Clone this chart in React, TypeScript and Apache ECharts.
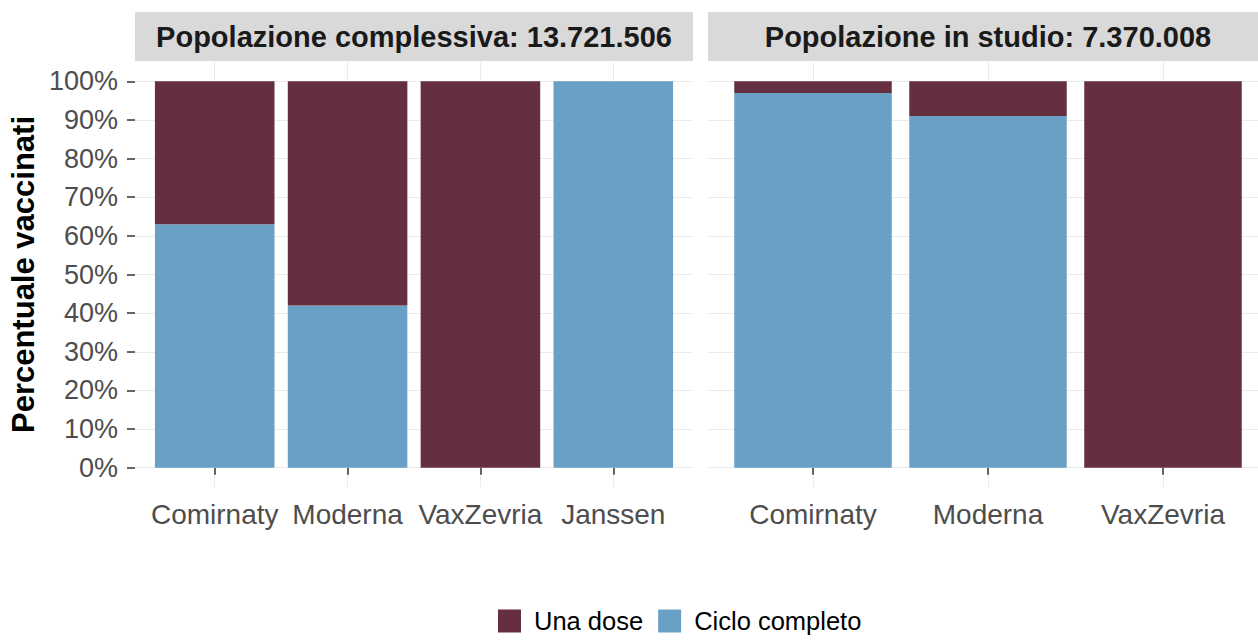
import React, { useEffect, useRef } from "react";
import * as echarts from "echarts";

const CATS_ALL = ["Comirnaty", "Moderna", "VaxZevria", "Janssen"];
const CICLO_ALL = [63, 42, 0, 100];
const UNA_ALL = [37, 58, 100, 0];

const CATS_STUDY = ["Comirnaty", "Moderna", "VaxZevria"];
const CICLO_STUDY = [97, 91, 0];
const UNA_STUDY = [3, 9, 100];

const Y_TICKS = [0, 10, 20, 30, 40, 50, 60, 70, 80, 90, 100];
const PANEL_TITLES = ["Popolazione complessiva: 13.721.506", "Popolazione in studio: 7.370.008"];
const SERIES_NAMES = ["Una dose", "Ciclo completo"];
const Y_TITLE = "Percentuale vaccinati";

const COL_UNA = "#652F40";
const COL_CICLO = "#6A9FC6";
const FONT = "'Liberation Sans', Arial, sans-serif";

export default function App() {
  const ref = useRef<HTMLDivElement>(null);
  useEffect(() => {
    if (!ref.current) return;
    const chart = echarts.init(ref.current, null, { renderer: "svg" });
    const TOP = 62;
    const H = 425;
    const panels = [
      { left: 135, width: 558, cats: CATS_ALL, ciclo: CICLO_ALL, una: UNA_ALL, title: PANEL_TITLES[0] },
      { left: 708, width: 560, cats: CATS_STUDY, ciclo: CICLO_STUDY, una: UNA_STUDY, title: PANEL_TITLES[1] },
    ];
    const grid: any[] = [];
    const xAxis: any[] = [];
    const yAxis: any[] = [];
    const series: any[] = [];
    const graphic: any[] = [];
    panels.forEach((p, i) => {
      const n = p.cats.length;
      const unit = p.width / (n + 0.2);
      const pos = p.cats.map((_, k) => k + 1);
      grid.push({ left: p.left, top: TOP, width: p.width, height: H, containLabel: false, outerBoundsMode: "none" });
      grid.push({
        left: p.left + 0.1 * unit,
        top: TOP,
        width: n * unit,
        height: H,
        containLabel: false,
        outerBoundsMode: "none",
      });
      xAxis.push({
        type: "value",
        gridIndex: 2 * i,
        min: 0.4,
        max: n + 0.6,
        axisLine: { show: false },
        axisTick: { show: true, customValues: pos, length: 7, lineStyle: { color: "#333333", width: 1.5 } },
        axisLabel: {
          customValues: pos,
          formatter: (v: number) => p.cats[Math.round(v) - 1] ?? "",
          color: "#4D4D4D",
          fontSize: 28,
          fontFamily: FONT,
          margin: 13,
        },
        splitLine: { show: true, lineStyle: { color: "#EBEBEB", width: 1 } },
      });
      xAxis.push({ type: "category", gridIndex: 2 * i + 1, data: p.cats, show: false, boundaryGap: true });
      yAxis.push({
        type: "value",
        gridIndex: 2 * i,
        min: -5,
        max: 105,
        axisLine: { show: false },
        axisTick: { show: i === 0, customValues: Y_TICKS, length: 8, lineStyle: { color: "#333333", width: 1.5 } },
        axisLabel: {
          show: i === 0,
          customValues: Y_TICKS,
          formatter: (v: number) => `${v}%`,
          color: "#4D4D4D",
          fontSize: 27,
          fontFamily: FONT,
          margin: 17,
        },
        splitLine: { show: true, lineStyle: { color: "#EBEBEB", width: 1 } },
      });
      yAxis.push({ type: "value", gridIndex: 2 * i + 1, min: -5, max: 105, show: false });
      series.push({
        type: "bar",
        name: SERIES_NAMES[1],
        xAxisIndex: 2 * i + 1,
        yAxisIndex: 2 * i + 1,
        stack: "s" + i,
        barWidth: "90%",
        data: p.ciclo,
        itemStyle: { color: COL_CICLO },
      });
      series.push({
        type: "bar",
        name: SERIES_NAMES[0],
        xAxisIndex: 2 * i + 1,
        yAxisIndex: 2 * i + 1,
        stack: "s" + i,
        barWidth: "90%",
        data: p.una,
        itemStyle: { color: COL_UNA },
      });
      graphic.push({
        type: "rect",
        shape: { x: p.left, y: 12, width: p.width, height: TOP - 13 },
        style: { fill: "#D9D9D9" },
        silent: true,
      });
      graphic.push({
        type: "text",
        x: p.left + p.width / 2,
        y: 12 + (TOP - 13) / 2,
        style: {
          text: p.title,
          fontSize: 29,
          fontWeight: "bold",
          fontFamily: FONT,
          fill: "#1A1A1A",
          align: "center",
          verticalAlign: "middle",
        },
      });
    });
    graphic.push({
      type: "text",
      x: 23,
      y: TOP + H / 2,
      rotation: Math.PI / 2,
      style: {
        text: Y_TITLE,
        fontSize: 31,
        fontWeight: "bold",
        fontFamily: FONT,
        fill: "#000000",
        align: "center",
        verticalAlign: "middle",
      },
    });
    chart.setOption({
      animation: false,
      backgroundColor: "#FFFFFF",
      grid,
      xAxis,
      yAxis,
      series,
      graphic,
      legend: {
        data: SERIES_NAMES,
        left: 498,
        top: 608,
        padding: 0,
        orient: "horizontal",
        icon: "rect",
        itemWidth: 23,
        itemHeight: 23,
        itemGap: 15,
        textStyle: { fontSize: 25.5, fontFamily: FONT, color: "#000000", padding: [0, 0, 0, 8] },
      },
    });
    return () => chart.dispose();
  }, []);
  return <div ref={ref} style={{ position: "absolute", left: 0, top: 0, width: 1258, height: 641 }} />;
}
